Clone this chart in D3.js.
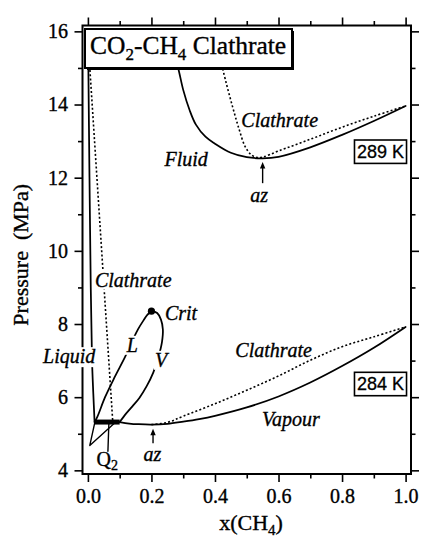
<!DOCTYPE html>
<html>
<head>
<meta charset="utf-8">
<script src="https://cdn.jsdelivr.net/npm/d3@7"></script>
<style>
  html, body { margin: 0; padding: 0; background: #fff; }
  svg { display: block; }
  text { font-family: "Liberation Serif", "Times New Roman", Times, serif; fill: #000;
         stroke: #000; stroke-width: 0.35px; white-space: pre; }
  text.tag { font-family: "Liberation Sans", Arial, Helvetica, sans-serif; stroke-width: 0.3px; }
</style>
</head>
<body>
<svg id="chart" width="424" height="537"></svg>
<script>
// ---- Axis ticks ---------------------------------------------------------
const xTicksMajor = [0, 0.2, 0.4, 0.6, 0.8, 1.0];
const xTicksMinor = [0.1, 0.3, 0.5, 0.7, 0.9];
const yTicksMajor = [4, 6, 8, 10, 12, 14, 16];
const yTicksMinor = [5, 7, 9, 11, 13, 15];

// ---- 289 K isotherm: [x(CH4), P / MPa] -----------------------------------
const fluid289 = [[0.270, 15.40], [0.284, 15.00], [0.300, 14.40], [0.320, 13.85], [0.340, 13.45],
  [0.370, 13.12], [0.400, 12.93], [0.450, 12.68], [0.500, 12.56], [0.550, 12.53], [0.600, 12.57],
  [0.700, 12.83], [0.800, 13.17], [0.900, 13.55], [1.000, 13.96]];
const clathrate289 = [[0.418, 15.20], [0.435, 14.60], [0.455, 13.95], [0.475, 13.35], [0.495, 12.85],
  [0.515, 12.62], [0.535, 12.55], [0.550, 12.56], [0.600, 12.73], [0.700, 13.05], [0.800, 13.38],
  [0.900, 13.68], [1.000, 13.96]];

// ---- 284 K isotherm -----------------------------------------------------
const liquid284 = [[0.001, 15.40], [0.005, 12.00], [0.009, 9.00], [0.013, 7.00], [0.017, 6.10], [0.021, 5.32]];
const clathrateSteep284 = [[0.003, 15.40], [0.078, 5.36]];
const threePhase284 = [[0.020, 5.32], [0.100, 5.32]];
const branchL284 = [[0.021, 5.32], [0.030, 5.47], [0.054, 6.00], [0.085, 6.56], [0.117, 7.10],
  [0.142, 7.58], [0.158, 7.86], [0.175, 8.10], [0.187, 8.25], [0.200, 8.35]];
const branchV284 = [[0.200, 8.35], [0.218, 8.30], [0.230, 8.12], [0.236, 7.85], [0.233, 7.50],
  [0.222, 7.10], [0.206, 6.68], [0.185, 6.30], [0.162, 5.98], [0.140, 5.75], [0.120, 5.55], [0.100, 5.32]];
const metastable284 = [[0.022, 5.32], [0.006, 4.68], [0.085, 5.30]];
const vapour284 = [[0.100, 5.32], [0.130, 5.28], [0.160, 5.26], [0.200, 5.25], [0.250, 5.27],
  [0.300, 5.33], [0.350, 5.40], [0.400, 5.49], [0.500, 5.72], [0.600, 6.02], [0.700, 6.40],
  [0.800, 6.85], [0.900, 7.35], [1.000, 7.92]];
const clathrate284 = [[0.200, 5.25], [0.250, 5.31], [0.300, 5.48], [0.400, 5.82], [0.500, 6.19],
  [0.600, 6.58], [0.700, 7.01], [0.800, 7.38], [0.900, 7.65], [1.000, 7.92]];
const criticalPoint284 = [0.200, 8.35];
const quadruplePointer = [[0.066, 5.29], [0.063, 4.52]];

// ---- Text annotations -----------------------------------------------------
// labels that sit across a curve (drawn on a white backing)
const crossingLabels = [
  { text: "Liquid", at: [-0.141, 6.93] },
  { text: "Clathrate", at: [0.022, 9.02] },
  { text: "L", at: [0.122, 7.24] },
  { text: "V", at: [0.211, 6.83] }
];
// labels placed in open regions
const regionLabels = [
  { text: "Fluid", at: [0.241, 12.32] },
  { text: "Clathrate", at: [0.483, 13.38] },
  { text: "Crit", at: [0.2425, 8.11] },
  { text: "Clathrate", at: [0.464, 7.10] },
  { text: "Vapour", at: [0.548, 5.21] }
];
const azLabels = [
  { text: "az", at: [0.539, 11.34], arrowFrom: [0.550, 11.85], arrowTo: [0.550, 12.43] },
  { text: "az", at: [0.203, 4.25], arrowFrom: [0.205, 4.74], arrowTo: [0.205, 5.14] }
];
const quadrupleLabel = { main: "Q", sub: "2", at: [0.027, 4.12] };
const temperatureTags = [
  { text: "289 K", at: [0.921, 12.71] },
  { text: "284 K", at: [0.921, 6.36] }
];

// ---- Scales ---------------------------------------------------------------
const svg = d3.select("#chart");
const x = d3.scaleLinear().domain([-0.017, 1.017]).range([82.5, 411]);
const y = d3.scaleLinear().domain([3.9, 16.16]).range([474, 25.5]);
const [x0, x1] = x.range();
const [y0, y1] = y.range();

// ---- Frame and ticks ------------------------------------------------------
function drawAxis(axisGen, transform, values, size, fmt, pad) {
  const g = svg.append("g").attr("transform", transform)
    .call(axisGen.tickValues(values).tickSizeInner(size).tickSizeOuter(0).tickPadding(pad).tickFormat(fmt));
  g.select(".domain").remove();
  g.selectAll(".tick line").attr("stroke", "#000").attr("stroke-width", 1.6);
  g.attr("font-size", 20);
  g.selectAll(".tick text").attr("fill", "#000");
  return g;
}
const noLabel = () => "";
drawAxis(d3.axisBottom(x), `translate(0,${y0})`, xTicksMajor, 8, d3.format(".1f"), 7);
drawAxis(d3.axisBottom(x), `translate(0,${y0})`, xTicksMinor, 4.5, noLabel, 3);
drawAxis(d3.axisTop(x), `translate(0,${y1})`, xTicksMajor, 8, noLabel, 3);
drawAxis(d3.axisTop(x), `translate(0,${y1})`, xTicksMinor, 4.5, noLabel, 3);
drawAxis(d3.axisLeft(y), `translate(${x0},0)`, yTicksMajor, 8, d => d, 6.5);
drawAxis(d3.axisLeft(y), `translate(${x0},0)`, yTicksMinor, 4.5, noLabel, 3);
drawAxis(d3.axisRight(y), `translate(${x1},0)`, yTicksMajor, 8, noLabel, 3);
drawAxis(d3.axisRight(y), `translate(${x1},0)`, yTicksMinor, 4.5, noLabel, 3);

svg.append("rect")
  .attr("x", x0).attr("y", y1).attr("width", x1 - x0).attr("height", y0 - y1)
  .attr("fill", "none").attr("stroke", "#000").attr("stroke-width", 2);

// axis titles
svg.append("text")
  .attr("transform", `translate(28,${(y0 + y1) / 2 + 5}) rotate(-90)`)
  .attr("text-anchor", "middle").attr("font-size", 22)
  .text("Pressure\u00A0\u00A0(MPa)");
const xTitle = svg.append("text")
  .attr("x", 251).attr("y", 530).attr("text-anchor", "middle").attr("font-size", 22);
xTitle.append("tspan").text("x(CH");
xTitle.append("tspan").attr("font-size", 15).attr("dy", 5).text("4");
xTitle.append("tspan").attr("dy", -5).text(")");

// ---- Curves ----------------------------------------------------------------
const smooth = d3.line().x(d => x(d[0])).y(d => y(d[1])).curve(d3.curveCatmullRom.alpha(0.5));
const straight = d3.line().x(d => x(d[0])).y(d => y(d[1]));
const curves = svg.append("g").attr("fill", "none").attr("stroke", "#000");

function solid(data, gen, w) {
  curves.append("path").attr("d", gen(data)).attr("stroke-width", w || 1.75)
    .attr("stroke-linejoin", "round").attr("stroke-linecap", "round");
}
function dotted(data, gen) {
  curves.append("path").attr("d", gen(data)).attr("stroke-width", 1.6)
    .attr("stroke-dasharray", "2,2.2");
}

solid(fluid289, smooth);
dotted(clathrate289, smooth);

solid(liquid284, smooth);
dotted(clathrateSteep284, straight);
solid(branchL284, smooth);
solid(branchV284, smooth);
solid(metastable284, straight, 1.4);
solid(vapour284, smooth);
dotted(clathrate284, smooth);
solid(quadruplePointer, straight, 1.4);

// three-phase line
curves.append("path").attr("d", straight(threePhase284))
  .attr("stroke-width", 5).attr("stroke-linecap", "butt");

// critical point
svg.append("circle")
  .attr("cx", x(criticalPoint284[0])).attr("cy", y(criticalPoint284[1])).attr("r", 3.6)
  .attr("fill", "#000");

// ---- Labels ------------------------------------------------------------------
const labelLayer = svg.append("g");
function italicLabel(d, backed) {
  const t = labelLayer.append("text")
    .attr("x", x(d.at[0])).attr("y", y(d.at[1]))
    .attr("font-size", 20).attr("font-style", "italic").text(d.text);
  if (backed) {
    const b = t.node().getBBox();
    labelLayer.insert("rect", () => t.node())
      .attr("x", b.x - 1).attr("y", b.y + 2).attr("width", b.width + 2).attr("height", b.height - 3)
      .attr("fill", "#fff");
  }
  return t;
}
crossingLabels.forEach(d => italicLabel(d, true));
regionLabels.forEach(d => italicLabel(d, false));

// azeotrope markers: label plus upward arrow
azLabels.forEach(d => {
  italicLabel(d, false).attr("text-anchor", "middle");
  const ax = x(d.arrowFrom[0]), ay0 = y(d.arrowFrom[1]), ay1 = y(d.arrowTo[1]);
  labelLayer.append("line")
    .attr("x1", ax).attr("x2", ax).attr("y1", ay0).attr("y2", ay1 + 5)
    .attr("stroke", "#000").attr("stroke-width", 1.4);
  labelLayer.append("path")
    .attr("d", `M${ax},${ay1} L${ax - 2.7},${ay1 + 6.5} L${ax + 2.7},${ay1 + 6.5} Z`)
    .attr("fill", "#000");
});

// quadruple-point label
const q2 = labelLayer.append("text")
  .attr("x", x(quadrupleLabel.at[0])).attr("y", y(quadrupleLabel.at[1])).attr("font-size", 20);
q2.append("tspan").text(quadrupleLabel.main);
q2.append("tspan").attr("font-size", 14).attr("dy", 4).text(quadrupleLabel.sub);

// temperature tags
temperatureTags.forEach(d => {
  const cx = x(d.at[0]), cy = y(d.at[1]);
  const g = svg.append("g");
  const t = g.append("text").attr("class", "tag")
    .attr("x", cx).attr("y", cy + 6.4).attr("text-anchor", "middle")
    .attr("font-size", 18).text(d.text);
  const w = t.node().getComputedTextLength() + 5;
  g.insert("rect", "text")
    .attr("x", cx - w / 2).attr("y", cy - 11.7).attr("width", w).attr("height", 23.4)
    .attr("fill", "#fff").attr("stroke", "#000").attr("stroke-width", 1.6);
});

// ---- Title box ---------------------------------------------------------------
const tb = { x: x0 + 2.5, y: y1 + 3.5, w: 207, h: 39 };
svg.append("rect")
  .attr("x", tb.x + 2).attr("y", tb.y + 2).attr("width", tb.w).attr("height", tb.h)
  .attr("fill", "#000");
svg.append("rect")
  .attr("x", tb.x).attr("y", tb.y).attr("width", tb.w).attr("height", tb.h)
  .attr("fill", "#fff").attr("stroke", "#000").attr("stroke-width", 2);
const title = svg.append("text")
  .attr("x", tb.x + 5).attr("y", tb.y + 25).attr("font-size", 25.5);
title.append("tspan").text("CO");
title.append("tspan").attr("font-size", 17).attr("dy", 6).text("2");
title.append("tspan").attr("dy", -6).text("-CH");
title.append("tspan").attr("font-size", 17).attr("dy", 6).text("4");
title.append("tspan").attr("dy", -6).text(" Clathrate");
</script>
</body>
</html>
